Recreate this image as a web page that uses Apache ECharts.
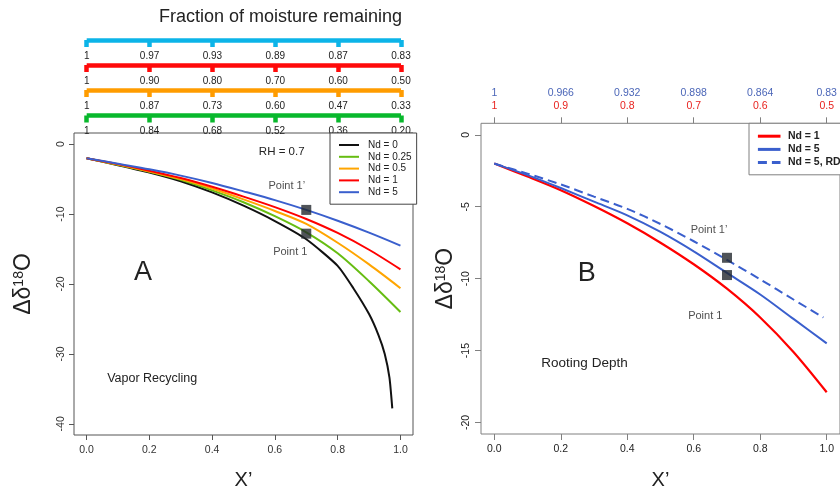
<!DOCTYPE html>
<html>
<head>
<meta charset="utf-8">
<script src="https://cdn.jsdelivr.net/npm/echarts@6/dist/echarts.min.js"></script>
<style>
  html, body { margin: 0; padding: 0; background: #fff; }
  #chart { width: 840px; height: 495px; }
</style>
</head>
<body>
<div id="chart"></div>
<script>
const FONT = '"Liberation Sans", Arial, Helvetica, sans-serif';

// X' sample positions of the modelled curves
const xGrid   = [0, 0.1, 0.2, 0.3, 0.4, 0.5, 0.6, 0.7, 0.8, 0.9, 1.0];
const xBlackA = [0, 0.1, 0.2, 0.3, 0.4, 0.5, 0.6, 0.7, 0.8, 0.85, 0.9, 0.93, 0.95, 0.965, 0.974];
const xRD     = [0, 0.1, 0.2, 0.3, 0.4, 0.5, 0.6, 0.7, 0.8, 0.9, 0.99];

// Panel A: vapor recycling (RH = 0.7), delta 18O change for each Nd
const nd0A   = [-2, -3.0, -4.05, -5.3, -6.9, -8.8, -11.0, -13.6, -17.4, -20.6, -24.3, -27.3, -30.0, -33.4, -37.8];
const nd025A = [-2, -2.95, -3.95, -5.1, -6.6, -8.3, -10.3, -12.6, -15.6, -19.6, -24.0];
const nd05A  = [-2, -2.9, -3.9, -5.0, -6.35, -7.9, -9.55, -11.4, -14.1, -17.2, -20.6];
const nd1A   = [-2, -2.85, -3.8, -4.85, -6.1, -7.5, -9.0, -10.7, -12.7, -15.1, -17.9];
const nd5A   = [-2, -2.8, -3.6, -4.5, -5.55, -6.75, -8.0, -9.4, -10.95, -12.65, -14.5];

// Panel B: rooting depth
const nd1B   = [-2, -2.9, -3.85, -4.95, -6.15, -7.5, -9.0, -10.7, -12.7, -15.1, -17.9];
const nd5B   = [-2, -2.8, -3.7, -4.65, -5.6, -6.75, -8.1, -9.6, -11.1, -12.8, -14.5];
const nd5rdB = [-2, -2.7, -3.45, -4.3, -5.15, -6.2, -7.4, -8.7, -10.05, -11.45, -12.7];

// Highlighted points
const pointNames = ['Point 1\u2019', 'Point 1'];
const pointXA = [0.70, 0.70];
const pointYA = [-9.4, -12.8];
const pointXB = [0.70, 0.70];
const pointYB = [-8.55, -9.75];

// Tick positions and labels
const xTicks = [0, 0.2, 0.4, 0.6, 0.8, 1.0];
const yTicksA = [0, -10, -20, -30, -40];
const yTicksB = [0, -5, -10, -15, -20];
const fracCyan   = ['1', '0.97', '0.93', '0.89', '0.87', '0.83'];
const fracRed    = ['1', '0.90', '0.80', '0.70', '0.60', '0.50'];
const fracOrange = ['1', '0.87', '0.73', '0.60', '0.47', '0.33'];
const fracGreen  = ['1', '0.84', '0.68', '0.52', '0.36', '0.20'];
const fracBlueB  = ['1', '0.966', '0.932', '0.898', '0.864', '0.83'];
const fracRedB   = ['1', '0.9', '0.8', '0.7', '0.6', '0.5'];

const legendA = ['Nd = 0', 'Nd = 0.25', 'Nd = 0.5', 'Nd = 1', 'Nd = 5'];
const legendB = ['Nd = 1', 'Nd = 5', 'Nd = 5, RD'];

const C = {
  black: '#111111', green: '#66bd12', orange: '#ffa500', red: '#ff0000', blue: '#3a5fcd',
  cyanBar: '#0cb4e8', redBar: '#ff0a0a', orangeBar: '#ff9c00', greenBar: '#08b82c',
  text: '#222222'
};

const pairs = (xs, ys) => xs.map((x, i) => [x, ys[i]]);
const pick = labels => v => labels[Math.round(v / 0.2)];

function curve(name, xs, ys, color, axis, extra) {
  return Object.assign({
    type: 'line', name, xAxisIndex: axis, yAxisIndex: axis,
    data: pairs(xs, ys), symbol: 'none', smooth: 0.3,
    lineStyle: { color, width: 2 }, itemStyle: { color }, z: 3
  }, extra || {});
}

function points(xs, ys, axis, offsets) {
  return {
    type: 'scatter', xAxisIndex: axis, yAxisIndex: axis, symbol: 'rect', symbolSize: 10,
    itemStyle: { color: '#23282e' }, z: 5,
    data: xs.map((x, i) => ({
      value: [x, ys[i]], name: pointNames[i],
      label: { show: true, position: 'inside', offset: offsets[i], formatter: '{b}',
               color: C.text, fontSize: 11, fontFamily: FONT }
    }))
  };
}

// Fraction-of-moisture scale bars above panel A
function fracAxis(offset, color, labels) {
  return {
    type: 'value', gridIndex: 2, position: 'bottom', offset, min: 0, max: 1, interval: 0.2,
    axisLine: { show: true, onZero: false, lineStyle: { color, width: 4.5, cap: 'butt' } },
    axisTick: { show: true, length: 7, lineStyle: { color, width: 4.5 } },
    axisLabel: { margin: 11, color: C.text, fontSize: 10, fontFamily: FONT,
                 showMinLabel: true, showMaxLabel: true, formatter: pick(labels) },
    splitLine: { show: false }
  };
}

const yName = {
  fontFamily: FONT,
  rich: {
    m: { fontSize: 23, fontFamily: FONT, color: C.text },
    s: { fontSize: 14, fontFamily: FONT, color: C.text, verticalAlign: 'top' }
  }
};

const chart = echarts.init(document.getElementById('chart'), null, { renderer: 'canvas' });

chart.setOption({
  animation: false,
  backgroundColor: '#ffffff',
  textStyle: { fontFamily: FONT },
  grid: [
    { left: 74, top: 133, width: 339, height: 304, show: true, borderColor: '#555', borderWidth: 1, backgroundColor: 'transparent' },
    { left: 481, top: 123.3, width: 363, height: 313.4, show: true, borderColor: '#808080', borderWidth: 1, backgroundColor: 'transparent' },
    { left: 86.7, top: 20, width: 314.3, height: 20, show: false }
  ],
  xAxis: [
    { // panel A, bottom
      type: 'value', gridIndex: 0, position: 'bottom', min: -0.04, max: 1.04,
      axisLine: { show: false, onZero: false },
      axisTick: { show: true, customValues: xTicks, length: 5, lineStyle: { color: '#555' } },
      axisLabel: { customValues: xTicks, formatter: v => v.toFixed(1), margin: 10, fontSize: 10.5, color: '#333' },
      splitLine: { show: false },
      name: 'X\u2019', nameLocation: 'middle', nameGap: 35,
      nameTextStyle: { fontSize: 20, color: C.text, fontFamily: FONT }
    },
    { // panel B, bottom
      type: 'value', gridIndex: 1, position: 'bottom', min: -0.04, max: 1.04,
      axisLine: { show: false, onZero: false },
      axisTick: { show: true, customValues: xTicks, length: 6, lineStyle: { color: '#808080' } },
      axisLabel: { customValues: xTicks, formatter: v => v.toFixed(1), margin: 10, fontSize: 10.5, color: C.text },
      splitLine: { show: false },
      name: 'X\u2019', nameLocation: 'middle', nameGap: 36,
      nameTextStyle: { fontSize: 20, color: C.text, fontFamily: FONT }
    },
    { // panel B, top: ticks and Nd = 1 fractions
      type: 'value', gridIndex: 1, position: 'top', min: -0.04, max: 1.04,
      axisLine: { show: false, onZero: false },
      axisTick: { show: true, customValues: xTicks, length: 6, lineStyle: { color: '#808080' } },
      axisLabel: { customValues: xTicks, formatter: pick(fracRedB), margin: 12, fontSize: 10.5, color: '#e8231f' },
      splitLine: { show: false }
    },
    { // panel B, top: Nd = 5 fractions
      type: 'value', gridIndex: 1, position: 'top', min: -0.04, max: 1.04,
      axisLine: { show: false, onZero: false }, axisTick: { show: false },
      axisLabel: { customValues: xTicks, formatter: pick(fracBlueB), margin: 25, fontSize: 10.5, color: '#4b66b8' },
      splitLine: { show: false }
    },
    fracAxis(0, C.cyanBar, fracCyan),
    fracAxis(25, C.redBar, fracRed),
    fracAxis(50, C.orangeBar, fracOrange),
    fracAxis(75.5, C.greenBar, fracGreen)
  ],
  yAxis: [
    {
      type: 'value', gridIndex: 0, position: 'left', min: -41.6, max: 1.6,
      axisLine: { show: false, onZero: false },
      axisTick: { show: true, customValues: yTicksA, length: 5, lineStyle: { color: '#555' } },
      axisLabel: { customValues: yTicksA, rotate: 90, margin: 7, fontSize: 10.5, color: '#333' },
      splitLine: { show: false },
      name: '{m|\u0394\u03b4}{s|18}{m|O}', nameLocation: 'middle', nameGap: 39, nameTextStyle: yName
    },
    {
      type: 'value', gridIndex: 1, position: 'left', min: -20.8, max: 0.8,
      axisLine: { show: false, onZero: false },
      axisTick: { show: true, customValues: yTicksB, length: 6, lineStyle: { color: '#808080' } },
      axisLabel: { customValues: yTicksB, rotate: 90, margin: 9, fontSize: 10.5, color: C.text },
      splitLine: { show: false },
      name: '{m|\u0394\u03b4}{s|18}{m|O}', nameLocation: 'middle', nameGap: 24, nameTextStyle: yName
    },
    { type: 'value', gridIndex: 2, min: 0, max: 1, show: false, axisLine: { onZero: false } }
  ],
  legend: [
    {
      data: legendA, orient: 'vertical', left: 330, top: 133,
      itemWidth: 20, itemHeight: 10, itemGap: 1.8, padding: [7, 5, 7, 8],
      borderColor: '#444', borderWidth: 1, backgroundColor: '#fff',
      itemStyle: { opacity: 0 },
      textStyle: { fontSize: 10, color: C.text, fontFamily: FONT, padding: [0, 0, 0, 4] },
      selectedMode: false
    },
    {
      data: legendB, orient: 'vertical', left: 749, top: 123.3,
      itemWidth: 22.6, itemHeight: 10, itemGap: 2.2, padding: [7.4, 8, 6.7, 7.4],
      borderColor: '#808080', borderWidth: 1, backgroundColor: '#fff',
      itemStyle: { opacity: 0 },
      lineStyle: { width: 3 },
      textStyle: { fontSize: 10.5, fontWeight: 'bold', color: C.text, fontFamily: FONT, padding: [0, 0, 0, 2.4] },
      selectedMode: false
    }
  ],
  graphic: [
    { type: 'text', x: 280.5, y: 17, style: { text: 'Fraction of moisture remaining', fontSize: 18, fontFamily: FONT, fill: C.text, align: 'center', verticalAlign: 'middle' } },
    { type: 'text', x: 281.7, y: 151.7, z: 10, style: { text: 'RH = 0.7', fontSize: 11.5, fontFamily: FONT, fill: C.text, align: 'center', verticalAlign: 'middle' } },
    { type: 'text', x: 143, y: 273, style: { text: 'A', fontSize: 27, fontFamily: FONT, fill: C.text, align: 'center', verticalAlign: 'middle' } },
    { type: 'text', x: 152.2, y: 379, style: { text: 'Vapor Recycling', fontSize: 12.5, fontFamily: FONT, fill: C.text, align: 'center', verticalAlign: 'middle' } },
    { type: 'text', x: 586.7, y: 274, style: { text: 'B', fontSize: 27, fontFamily: FONT, fill: C.text, align: 'center', verticalAlign: 'middle' } },
    { type: 'text', x: 584.5, y: 363.3, style: { text: 'Rooting Depth', fontSize: 13.5, fontFamily: FONT, fill: C.text, align: 'center', verticalAlign: 'middle' } }
  ],
  series: [
    curve('Nd = 0', xBlackA, nd0A, C.black, 0, { smooth: 0.2 }),
    curve('Nd = 0.25', xGrid, nd025A, C.green, 0),
    curve('Nd = 0.5', xGrid, nd05A, C.orange, 0),
    curve('Nd = 1', xGrid, nd1A, C.red, 0),
    curve('Nd = 5', xGrid, nd5A, C.blue, 0),
    points(pointXA, pointYA, 0, [[-19.5, -24], [-16, 18]]),

    curve('Nd = 1', xGrid, nd1B, C.red, 1, { lineStyle: { color: C.red, width: 2.2 } }),
    curve('Nd = 5', xGrid, nd5B, C.blue, 1),
    curve('Nd = 5, RD', xRD, nd5rdB, C.blue, 1, { lineStyle: { color: C.blue, width: 2, type: [9, 5] } }),
    points(pointXB, pointYB, 1, [[-18, -28], [-21.7, 40.6]])
  ]
});
</script>
</body>
</html>
